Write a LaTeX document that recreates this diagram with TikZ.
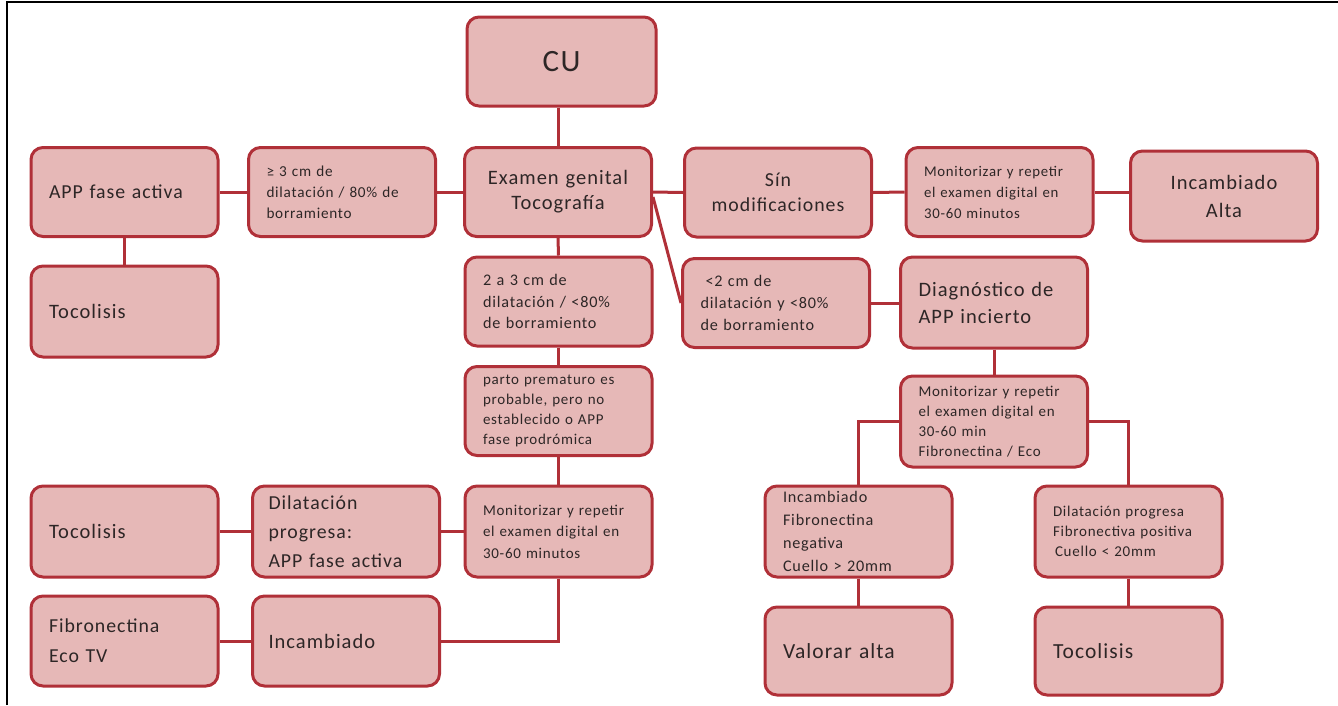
\documentclass[tikz,border=0pt]{standalone}
\usepackage{fontspec}
\setmainfont{Carlito}[LetterSpace=5]
\definecolor{boxfill}{RGB}{230,184,183}
\definecolor{boxline}{RGB}{176,48,56}
\definecolor{txt}{RGB}{45,38,38}
\newcommand{\fs}[2]{\fontsize{#1}{#2}\selectfont}
\tikzset{
  box/.style={draw=boxline, line width=3pt, fill=boxfill, rounded corners=12pt,
    minimum width=187pt, minimum height=89pt, text width=151pt, inner xsep=18pt,
    inner ysep=2pt, align=left, text=txt},
  cbox/.style={box, align=center},
  conn/.style={draw=boxline, line width=3pt},
  frame/.style={draw=black, line width=2.5pt}
}
\begin{document}
\begin{tikzpicture}[x=1pt,y=-1pt]
\useasboundingbox (0,0) rectangle (1338,705);
\draw[frame] (7,705) -- (7,2) -- (1338,2);

\node[cbox, minimum width=189pt, font=\fs{31}{36}] (cu) at (561.5,61.5) {CU};
\node[cbox, font=\fs{20.5}{25}] (exam) at (558,192) {Examen genital\\Tocografía};
\node[box, font=\fs{15.2}{21}] (ge3) at (342,192) {≥ 3 cm de\\dilatación / 80\% de\\borramiento};
\node[box, font=\fs{19.8}{24}] (appfa) at (124.5,192) {APP fase activa};
\node[box, minimum height=91pt, font=\fs{20.5}{24}] (toc1) at (124.5,311.5) {Tocolisis};
\node[cbox, font=\fs{19.8}{25}] (sin) at (778,192.5) {Sín\\modificaciones};
\node[box, font=\fs{14.8}{21}] (mon1) at (999.5,192) {Monitorizar y repetir\\el examen digital en\\30-60 minutos};
\node[cbox, minimum height=90pt, font=\fs{20.5}{28}] (incalta) at (1224,196) {Incambiado\\Alta};
\node[box, font=\fs{16.2}{21.5}] (dos3) at (558.5,301.5) {2 a 3 cm de\\dilatación / <80\%\\de borramiento};
\node[box, font=\fs{16.2}{22}] (menos2) at (776,303) {\hspace*{5pt}<2 cm de\\dilatación y <80\%\\de borramiento};
\node[box, minimum height=91pt, font=\fs{20.5}{27}] (diag) at (994,302.5) {Diagnóstico de\\APP incierto};
\node[box, font=\fs{15}{20}] (parto) at (558.5,411) {parto prematuro es\\probable, pero no\\establecido o APP\\fase prodrómica};
\node[box, minimum height=91pt, font=\fs{15}{20}] (mon3) at (994,421.5) {Monitorizar y repetir\\el examen digital en\\30-60 min\\Fibronectina / Eco};
\node[box, minimum height=91pt, font=\fs{20.5}{24}] (toc2) at (124.5,531.5) {Tocolisis};
\node[box, minimum height=91pt, text width=155pt, inner xsep=16pt, font=\fs{19.8}{29}] (dilat) at (346,531.5) {Dilatación\\progresa:\\APP fase activa};
\node[box, minimum height=91pt, font=\fs{15}{21.5}] (mon2) at (558.5,531.5) {Monitorizar y repetir\\el examen digital en\\30-60 minutos};
\node[box, minimum height=90pt, font=\fs{19.8}{30}] (fib) at (124.5,641) {Fibronectina\\Eco TV};
\node[box, minimum height=90pt, text width=155pt, inner xsep=16pt, font=\fs{20.5}{24}] (inc) at (346,641) {Incambiado};
\node[box, minimum height=91pt, font=\fs{16.2}{23}] (incfib) at (858.5,531.5) {Incambiado\\Fibronectina\\negativa\\Cuello > 20mm};
\node[box, minimum height=91pt, font=\fs{15}{20}] (dilfib) at (1128.5,531.5) {Dilatación progresa\\Fibronectiva positiva\\\hspace*{2pt}Cuello < 20mm};
\node[box, minimum height=88pt, font=\fs{21.5}{24}] (valorar) at (858.5,651) {Valorar alta};
\node[box, minimum height=88pt, font=\fs{21.5}{24}] (toc3) at (1128.5,651) {Tocolisis};

\draw[conn] (exam.north |- cu.south) -- (exam.north);
\draw[conn] (exam.west) -- (ge3.east);
\draw[conn] (ge3.west) -- (appfa.east);
\draw[conn] (appfa.south) -- (toc1.north);
\draw[conn] (exam.east) -- (sin.west);
\draw[conn] (sin.east) -- (mon1.west);
\draw[conn] (mon1.east) -- (mon1.east -| incalta.west);
\draw[conn] (exam.south) -- (dos3.north);
\draw[conn] ([yshift=-5pt]exam.east) -- (menos2.west);
\draw[conn] (menos2.east) -- (menos2.east -| diag.west);
\draw[conn] (diag.south) -- (mon3.north);
\draw[conn] (dos3.south) -- (parto.north);
\draw[conn] (parto.south) -- (mon2.north);
\draw[conn] (mon2.west) -- (dilat.east);
\draw[conn] (dilat.west) -- (toc2.east);
\draw[conn] (mon2.south) |- (inc.east);
\draw[conn] (inc.west) -- (fib.east);
\draw[conn] (mon3.west) -| (incfib.north);
\draw[conn] (mon3.east) -| (dilfib.north);
\draw[conn] (incfib.south) -- (valorar.north);
\draw[conn] (dilfib.south) -- (toc3.north);
\end{tikzpicture}
\end{document}
